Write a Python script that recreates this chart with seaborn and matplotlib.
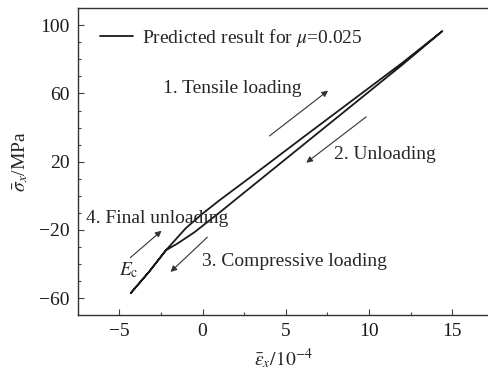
import matplotlib
matplotlib.use("Agg")
import matplotlib.pyplot as plt
import seaborn as sns
import pandas as pd
from matplotlib.ticker import FixedLocator, MultipleLocator

# ---- data ----
loading_x = [-4.3, -3.2, -2.2, -1.0, 0.0, 1.0, 3.0, 6.0, 9.0, 12.0, 14.4]
loading_y = [-57.0, -44.5, -32.0, -19.0, -10.5, -2.8, 11.8, 34.0, 56.0, 78.0, 96.6]
unloading_x = [14.4, 12.0, 9.0, 6.0, 3.0, 1.0, -0.5, -1.5, -2.2, -3.2, -4.3]
unloading_y = [96.6, 76.9, 53.2, 29.5, 5.8, -10.0, -21.5, -28.0, -32.0, -44.5, -57.0]

series_label = r"Predicted result for $\mu$=0.025"
y_ticks = [-60, -20, 20, 60, 100]
x_ticks = [-5, 0, 5, 10, 15]

stage_labels = ["1. Tensile loading", "2. Unloading", "3. Compressive loading", "4. Final unloading"]

sns.set_style("ticks")
plt.rcParams["font.family"] = ["Liberation Serif", "DejaVu Serif"]
plt.rcParams["mathtext.fontset"] = "stix"

fig = plt.figure(figsize=(4.88, 3.76), dpi=100)
ax = fig.add_axes([0.159, 0.162, 0.843, 0.816])

path = pd.DataFrame({
    "strain": loading_x + unloading_x[1:],
    "stress": loading_y + unloading_y[1:],
})
sns.lineplot(data=path, x="strain", y="stress", sort=False, estimator=None,
             color="#1a1a1a", lw=1.3, ax=ax, label=series_label)

ax.set_xlim(-7.5, 17.2)
ax.set_ylim(-70, 110)
ax.xaxis.set_major_locator(FixedLocator(x_ticks))
ax.xaxis.set_minor_locator(MultipleLocator(2.5))
ax.yaxis.set_major_locator(FixedLocator(y_ticks))
ax.yaxis.set_minor_locator(MultipleLocator(10))
ax.tick_params(which="major", direction="in", length=4, width=0.8, labelsize=14,
               colors="#444444", pad=6, top=False, right=False)
ax.tick_params(which="minor", direction="in", length=2.5, width=0.8, colors="#444444",
               top=False, right=False)
ax.tick_params(axis="both", labelcolor="#1a1a1a")
for s in ax.spines.values():
    s.set_color("#333333")
    s.set_linewidth(1.0)
ax.spines["right"].set_visible(False)

ax.set_xlabel(r"$\bar{\varepsilon}_x/10^{-4}$", fontsize=14, labelpad=4)
ax.set_ylabel(r"$\bar{\sigma}_x$/MPa", fontsize=14, labelpad=6)

leg = ax.legend(loc="upper left", frameon=False, fontsize=14, handlelength=1.7,
                bbox_to_anchor=(0.054, 0.94), handletextpad=0.45,
                borderpad=0, borderaxespad=0)

fs = 14
ax.text(-2.38, 62.8, stage_labels[0], fontsize=fs, va="center", ha="left")
ax.text(7.88, 24.3, stage_labels[1], fontsize=fs, va="center", ha="left")
ax.text(-0.05, -38.6, stage_labels[2], fontsize=fs, va="center", ha="left")
ax.text(-7.02, -13.1, stage_labels[3], fontsize=fs, va="center", ha="left")
ax.text(-5.0, -43.4, r"$E_{\rm c}$", fontsize=fs, va="center", ha="left")

arrows = [((4.02, 35.1), (7.54, 61.7)),
          ((9.83, 46.3), (6.23, 19.4)),
          ((0.29, -24.3), (-1.92, -44.7)),
          ((-4.33, -36.3), (-2.46, -20.5))]
for (x0, y0), (x1, y1) in arrows:
    ax.annotate("", xy=(x1, y1), xytext=(x0, y0),
                arrowprops=dict(arrowstyle="-|>", color="#333333", lw=0.8,
                                mutation_scale=9, shrinkA=0, shrinkB=0))

fig.savefig("out.png", dpi=100)
